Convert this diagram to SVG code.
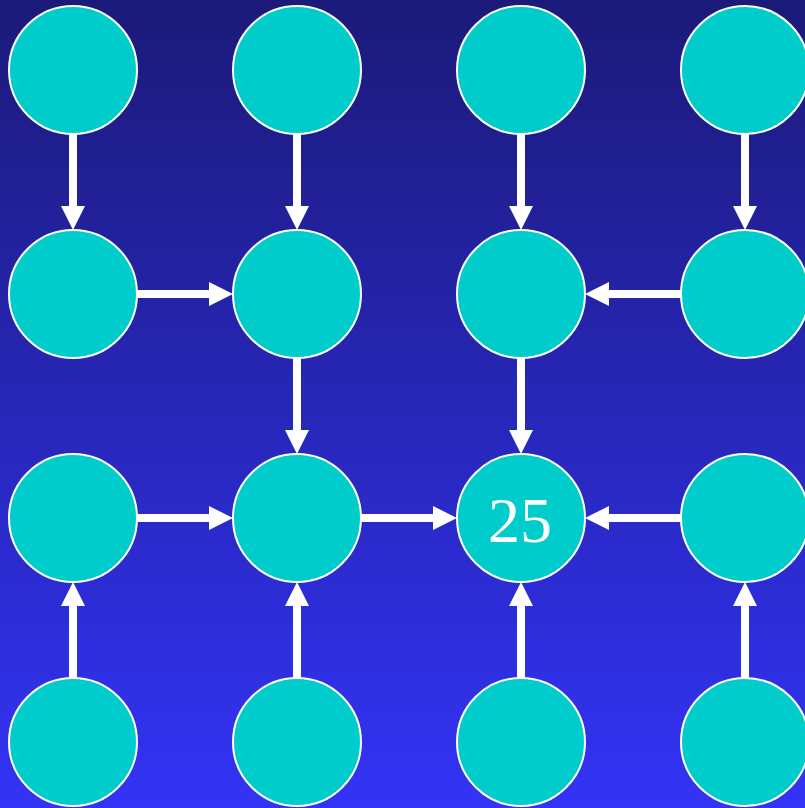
<svg xmlns="http://www.w3.org/2000/svg" width="805" height="808" viewBox="0 0 805 808">
  <defs>
    <linearGradient id="bg" x1="0" y1="0" x2="0" y2="1">
      <stop offset="0" stop-color="#1B1A78"/>
      <stop offset="1" stop-color="#3333F7"/>
    </linearGradient>
    <marker id="ah" markerUnits="userSpaceOnUse" markerWidth="24" markerHeight="24" refX="4" refY="12" orient="auto" viewBox="0 0 24 24">
      <path d="M0,0 L24,12 L0,24 z" fill="#FFFFFF"/>
    </marker>
  </defs>
  <style>
    .n { fill: #00CCCC; stroke: #FFFFFF; stroke-width: 2; }
    .e { stroke: #FFFFFF; stroke-width: 8; fill: none; marker-end: url(#ah); }
    .t { fill: #FFFFFF; font-family: "Liberation Serif", "Times New Roman", serif; font-size: 64px; text-anchor: middle; }
  </style>
  <rect x="0" y="0" width="805" height="808" fill="url(#bg)"/>
  <g id="connectors">
    <!-- row0 -> row1 downward -->
    <line class="e" x1="73" y1="134" x2="73" y2="210"/>
    <line class="e" x1="297" y1="134" x2="297" y2="210"/>
    <line class="e" x1="521" y1="134" x2="521" y2="210"/>
    <line class="e" x1="745" y1="134" x2="745" y2="210"/>
    <!-- row1 horizontals -->
    <line class="e" x1="137" y1="294" x2="213" y2="294"/>
    <line class="e" x1="681" y1="294" x2="605" y2="294"/>
    <!-- row1 -> row2 downward -->
    <line class="e" x1="297" y1="358" x2="297" y2="434"/>
    <line class="e" x1="521" y1="358" x2="521" y2="434"/>
    <!-- row2 horizontals -->
    <line class="e" x1="137" y1="518" x2="213" y2="518"/>
    <line class="e" x1="361" y1="518" x2="437" y2="518"/>
    <line class="e" x1="681" y1="518" x2="605" y2="518"/>
    <!-- row3 -> row2 upward -->
    <line class="e" x1="73" y1="678" x2="73" y2="602"/>
    <line class="e" x1="297" y1="678" x2="297" y2="602"/>
    <line class="e" x1="521" y1="678" x2="521" y2="602"/>
    <line class="e" x1="745" y1="678" x2="745" y2="602"/>
  </g>
  <g id="n00"><circle class="n" cx="73" cy="70" r="64"/></g>
  <g id="n01"><circle class="n" cx="297" cy="70" r="64"/></g>
  <g id="n02"><circle class="n" cx="521" cy="70" r="64"/></g>
  <g id="n03"><circle class="n" cx="745" cy="70" r="64"/></g>
  <g id="n10"><circle class="n" cx="73" cy="294" r="64"/></g>
  <g id="n11"><circle class="n" cx="297" cy="294" r="64"/></g>
  <g id="n12"><circle class="n" cx="521" cy="294" r="64"/></g>
  <g id="n13"><circle class="n" cx="745" cy="294" r="64"/></g>
  <g id="n20"><circle class="n" cx="73" cy="518" r="64"/></g>
  <g id="n21"><circle class="n" cx="297" cy="518" r="64"/></g>
  <g id="n22"><circle class="n" cx="521" cy="518" r="64"/><text class="t" x="520" y="542">25</text></g>
  <g id="n23"><circle class="n" cx="745" cy="518" r="64"/></g>
  <g id="n30"><circle class="n" cx="73" cy="742" r="64"/></g>
  <g id="n31"><circle class="n" cx="297" cy="742" r="64"/></g>
  <g id="n32"><circle class="n" cx="521" cy="742" r="64"/></g>
  <g id="n33"><circle class="n" cx="745" cy="742" r="64"/></g>
</svg>
